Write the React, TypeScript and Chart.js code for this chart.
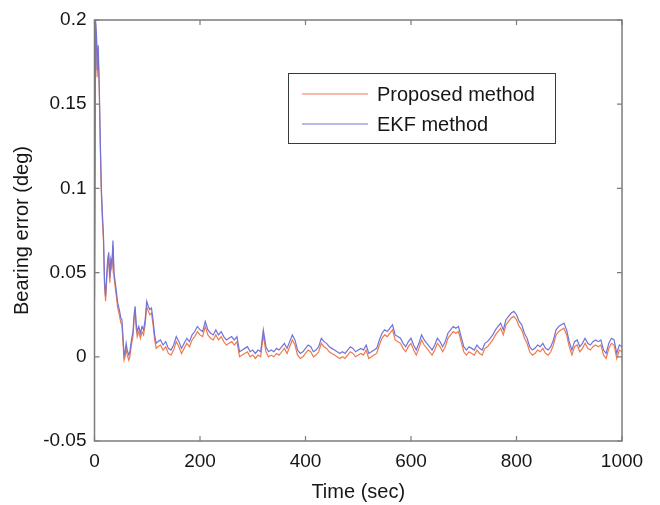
import { useEffect, useRef } from "react";
import { Chart, registerables } from "chart.js";
Chart.register(...registerables);

const timeSec = [
  0, 2, 4, 5, 7, 9, 11, 13, 15, 17, 19, 21, 23, 25, 27, 29, 31, 33, 35, 37, 39, 41, 44, 47, 50, 52,
  54, 56, 58, 60, 62, 65, 67, 70, 73, 75, 77, 79, 81, 84, 87, 90, 93, 96, 99, 102, 105, 108, 111, 114, 117, 120,
  125, 130, 135, 140, 145, 150, 155, 160, 165, 170,
  175, 180, 185, 190, 195, 200, 205, 210, 215, 220,
  225, 230, 235, 240, 245, 250, 255, 260, 265, 270,
  275, 280, 285, 290, 295, 300, 305, 310, 315, 320,
  325, 330, 335, 340, 345, 350, 355, 360, 365, 370,
  375, 380, 385, 390, 395, 400, 405, 410, 415, 420,
  425, 430, 435, 440, 445, 450, 455, 460, 465, 470,
  475, 480, 485, 490, 495, 500, 505, 510, 515, 520,
  525, 530, 535, 540, 545, 550, 555, 560, 565, 570,
  575, 580, 585, 590, 595, 600, 605, 610, 615, 620,
  625, 630, 635, 640, 645, 650, 655, 660, 665, 670,
  675, 680, 685, 690, 695, 700, 705, 710, 715, 720,
  725, 730, 735, 740, 745, 750, 755, 760, 765, 770,
  775, 780, 785, 790, 795, 800, 805, 810, 815, 820,
  825, 830, 835, 840, 845, 850, 855, 860, 865, 870,
  875, 880, 885, 890, 895, 900, 905, 910, 915, 920,
  925, 930, 935, 940, 945, 950, 955, 960, 965, 970,
  975, 980, 985, 990, 995, 1000,
];

const ekfError = [
  0.035, 0.2, 0.19, 0.17, 0.185, 0.162, 0.128, 0.1, 0.085, 0.072, 0.045, 0.036, 0.048, 0.058, 0.062, 0.047,
  0.058, 0.055, 0.069, 0.05, 0.045, 0.04, 0.032, 0.028, 0.023, 0.022, 0.012, 0.001, 0.003, 0.008, 0.004, 0.001,
  0.003, 0.01, 0.015, 0.025, 0.03, 0.02, 0.015, 0.018, 0.014, 0.018, 0.016, 0.022, 0.033, 0.03, 0.028, 0.029,
  0.022, 0.013, 0.008, 0.009,
  0.010, 0.007, 0.009, 0.005, 0.004, 0.007, 0.012, 0.009, 0.005, 0.008,
  0.011, 0.009, 0.013, 0.015, 0.018, 0.016, 0.015, 0.021, 0.016, 0.014,
  0.013, 0.016, 0.013, 0.015, 0.012, 0.010, 0.011, 0.012, 0.010, 0.012,
  0.003, 0.004, 0.005, 0.006, 0.003, 0.004, 0.002, 0.004, 0.003, 0.016,
  0.006, 0.003, 0.004, 0.003, 0.005, 0.004, 0.006, 0.008, 0.005, 0.009,
  0.013, 0.010, 0.004, 0.002, 0.003, 0.005, 0.007, 0.006, 0.003, 0.004,
  0.006, 0.011, 0.009, 0.008, 0.006, 0.005, 0.004, 0.003, 0.002, 0.003,
  0.002, 0.004, 0.006, 0.005, 0.003, 0.004, 0.005, 0.004, 0.007, 0.002,
  0.003, 0.004, 0.005, 0.010, 0.014, 0.016, 0.015, 0.017, 0.019, 0.013,
  0.012, 0.011, 0.008, 0.006, 0.009, 0.011, 0.007, 0.004, 0.008, 0.013,
  0.010, 0.008, 0.006, 0.004, 0.007, 0.011, 0.009, 0.006, 0.009, 0.014,
  0.016, 0.018, 0.017, 0.018, 0.012, 0.006, 0.004, 0.006, 0.005, 0.004,
  0.007, 0.005, 0.004, 0.008, 0.009, 0.011, 0.013, 0.016, 0.018, 0.020,
  0.016, 0.022, 0.024, 0.026, 0.027, 0.025, 0.021, 0.019, 0.014, 0.011,
  0.006, 0.004, 0.005, 0.007, 0.006, 0.008, 0.005, 0.004, 0.006, 0.010,
  0.016, 0.018, 0.019, 0.020, 0.016, 0.009, 0.004, 0.009, 0.010, 0.006,
  0.008, 0.011, 0.008, 0.007, 0.009, 0.010, 0.009, 0.010, 0.004, 0.002,
  0.008, 0.011, 0.010, 0.002, 0.007, 0.006,
];

const proposedError = [
  0.034, 0.198, 0.186, 0.166, 0.18, 0.158, 0.124, 0.097, 0.081, 0.069, 0.042, 0.033, 0.045, 0.054, 0.059, 0.044,
  0.055, 0.052, 0.066, 0.047, 0.042, 0.037, 0.029, 0.025, 0.02, 0.019, 0.009, -0.002, 0.0, 0.005, 0.001, -0.002,
  0.0, 0.007, 0.012, 0.022, 0.027, 0.017, 0.012, 0.015, 0.011, 0.015, 0.013, 0.019, 0.03, 0.027, 0.025, 0.026,
  0.019, 0.01, 0.005, 0.006,
  0.007, 0.004, 0.006, 0.002, 0.001, 0.004, 0.009, 0.006, 0.002, 0.005,
  0.008, 0.006, 0.010, 0.012, 0.015, 0.013, 0.012, 0.018, 0.013, 0.011,
  0.010, 0.013, 0.010, 0.012, 0.009, 0.007, 0.008, 0.009, 0.007, 0.009,
  0.000, 0.001, 0.002, 0.003, 0.000, 0.001, -0.001, 0.001, 0.000, 0.013,
  0.003, 0.000, 0.001, 0.000, 0.002, 0.001, 0.003, 0.005, 0.002, 0.006,
  0.010, 0.007, 0.001, -0.001, 0.000, 0.002, 0.004, 0.003, 0.000, 0.001,
  0.003, 0.008, 0.006, 0.005, 0.003, 0.002, 0.001, 0.000, -0.001, 0.000,
  -0.001, 0.001, 0.003, 0.002, 0.000, 0.001, 0.002, 0.001, 0.004, -0.001,
  0.000, 0.001, 0.002, 0.007, 0.011, 0.013, 0.012, 0.014, 0.016, 0.010,
  0.009, 0.008, 0.005, 0.003, 0.006, 0.008, 0.004, 0.001, 0.005, 0.010,
  0.007, 0.005, 0.003, 0.001, 0.004, 0.008, 0.006, 0.003, 0.006, 0.011,
  0.013, 0.015, 0.014, 0.015, 0.009, 0.003, 0.001, 0.003, 0.002, 0.001,
  0.004, 0.002, 0.001, 0.005, 0.006, 0.008, 0.010, 0.013, 0.015, 0.017,
  0.013, 0.019, 0.021, 0.023, 0.024, 0.022, 0.018, 0.016, 0.011, 0.008,
  0.003, 0.001, 0.002, 0.004, 0.003, 0.005, 0.002, 0.001, 0.003, 0.007,
  0.013, 0.015, 0.016, 0.017, 0.013, 0.006, 0.001, 0.006, 0.007, 0.003,
  0.005, 0.008, 0.005, 0.004, 0.006, 0.007, 0.006, 0.007, 0.001, -0.001,
  0.005, 0.008, 0.007, -0.001, 0.004, 0.003,
];

const seriesLabels = ["Proposed method", "EKF method"];
const seriesColors = ["#f07a4a", "#7272d8"];
const legendColors = ["#f4a488", "#a4a4e4"];
const xTicks = [0, 200, 400, 600, 800, 1000];
const xTickLabels = ["0", "200", "400", "600", "800", "1000"];
const yTicks = [-0.05, 0, 0.05, 0.1, 0.15, 0.2];
const yTickLabels = ["-0.05", "0", "0.05", "0.1", "0.15", "0.2"];
const xTitle = "Time (sec)";
const yTitle = "Bearing error (deg)";

const FONT = "'Liberation Sans', Arial, Helvetica, sans-serif";
const TEXT = "#161616";
const AXIS = "#7c7c7c";

const framePlugin = {
  id: "matlabFrame",
  afterDatasetsDraw(chart: any) {
    const { ctx, chartArea } = chart;
    const { left, right, top, bottom } = chartArea;
    const xs = chart.scales.x;
    const ys = chart.scales.y;
    ctx.save();
    ctx.strokeStyle = AXIS;
    ctx.lineWidth = 1.5;
    ctx.strokeRect(left, top, right - left, bottom - top);
    ctx.lineWidth = 1.2;
    ctx.beginPath();
    const tl = 5;
    xTicks.forEach((v) => {
      const px = xs.getPixelForValue(v);
      ctx.moveTo(px, bottom);
      ctx.lineTo(px, bottom - tl);
      ctx.moveTo(px, top);
      ctx.lineTo(px, top + tl);
    });
    yTicks.forEach((v) => {
      const py = ys.getPixelForValue(v);
      ctx.moveTo(left, py);
      ctx.lineTo(left + tl, py);
      ctx.moveTo(right, py);
      ctx.lineTo(right - tl, py);
    });
    ctx.stroke();

    // legend box (MATLAB style, inside the axes)
    const bx = 288, by = 73, bw = 267, bh = 70;
    ctx.fillStyle = "#ffffff";
    ctx.fillRect(bx, by, bw, bh);
    ctx.strokeStyle = "#3a3a3a";
    ctx.lineWidth = 1;
    ctx.strokeRect(bx + 0.5, by + 0.5, bw, bh);
    ctx.font = `20px ${FONT}`;
    ctx.textBaseline = "middle";
    ctx.textAlign = "left";
    seriesLabels.forEach((lab, i) => {
      const y = by + 21 + i * 30;
      ctx.strokeStyle = legendColors[i];
      ctx.lineWidth = 1.5;
      ctx.beginPath();
      ctx.moveTo(302, y);
      ctx.lineTo(368, y);
      ctx.stroke();
      ctx.fillStyle = TEXT;
      ctx.fillText(lab, 377, y + 1);
    });
    ctx.restore();
  },
};

export default function App() {
  const ref = useRef<HTMLCanvasElement | null>(null);
  useEffect(() => {
    if (!ref.current) return;
    const chart = new Chart(ref.current, {
      type: "line",
      data: {
        datasets: [
          {
            label: seriesLabels[0],
            data: timeSec.map((t, i) => ({ x: t, y: proposedError[i] })),
            borderColor: seriesColors[0],
            borderWidth: 1.2,
            pointRadius: 0,
            tension: 0,
            order: 1,
          },
          {
            label: seriesLabels[1],
            data: timeSec.map((t, i) => ({ x: t, y: ekfError[i] })),
            borderColor: seriesColors[1],
            borderWidth: 1.2,
            pointRadius: 0,
            tension: 0,
            order: 0,
          },
        ],
      },
      options: {
        animation: false,
        responsive: false,
        maintainAspectRatio: false,
        layout: { padding: { left: 0, right: 38, top: 20, bottom: 0 } },
        plugins: { legend: { display: false }, tooltip: { enabled: false } },
        scales: {
          x: {
            type: "linear",
            min: 0,
            max: 1000,
            afterBuildTicks: (s: any) => {
              s.ticks = xTicks.map((v) => ({ value: v }));
            },
            afterFit: (s: any) => {
              s.height = 64;
            },
            grid: { display: false, drawTicks: false },
            border: { display: false },
            ticks: {
              padding: 9,
              autoSkip: false,
              maxRotation: 0,
              color: TEXT,
              font: { size: 19, family: FONT },
              callback: (v: any) => {
                const i = xTicks.indexOf(Number(v));
                return i >= 0 ? xTickLabels[i] : "";
              },
            },
            title: {
              display: true,
              text: xTitle,
              color: TEXT,
              font: { size: 20, family: FONT },
              padding: { top: 0, bottom: 1 },
            },
          },
          y: {
            type: "linear",
            min: -0.05,
            max: 0.2,
            afterBuildTicks: (s: any) => {
              s.ticks = yTicks.map((v) => ({ value: v }));
            },
            afterFit: (s: any) => {
              s.width = 94.5;
            },
            grid: { display: false, drawTicks: false },
            border: { display: false },
            ticks: {
              padding: 8,
              autoSkip: false,
              color: TEXT,
              font: { size: 19, family: FONT },
              callback: (v: any) => {
                const i = yTicks.findIndex((t) => Math.abs(t - Number(v)) < 1e-9);
                return i >= 0 ? yTickLabels[i] : "";
              },
            },
            title: {
              display: true,
              text: yTitle,
              color: TEXT,
              font: { size: 20, family: FONT },
              padding: { top: 10, bottom: 0 },
            },
          },
        },
      },
      plugins: [framePlugin],
    });
    return () => chart.destroy();
  }, []);
  return (
    <div style={{ position: "fixed", left: 0, top: 0, width: 660, height: 505, background: "#ffffff" }}>
      <canvas ref={ref} width={660} height={505} style={{ display: "block", width: 660, height: 505 }} />
    </div>
  );
}
